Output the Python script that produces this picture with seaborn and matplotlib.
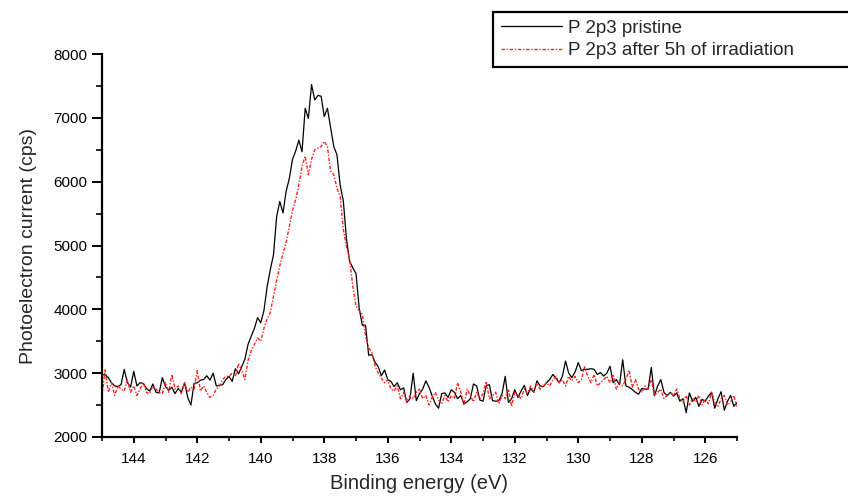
import numpy as np
import pandas as pd
import matplotlib
matplotlib.use("Agg")
import matplotlib.pyplot as plt
import seaborn as sns

# binding energy grid (eV), 0.1 eV steps from 145.0 down to 125.0
energy = np.round(np.arange(1450, 1249, -1) / 10.0, 1)

# P 2p3 pristine (cps), rows of 1 eV
pristine = [
    2980, 2970, 2930, 2850, 2800, 2790, 2820, 3060, 2850, 2780,
    3030, 2800, 2850, 2840, 2760, 2720, 2830, 2700, 2690, 2930,
    2790, 2730, 2780, 2680, 2760, 2700, 2850, 2620, 2500, 2840,
    2850, 2890, 2900, 2960, 2890, 3000, 2800, 2810, 2820, 2900,
    2950, 2870, 3070, 2990, 3100, 3220, 3450, 3580, 3700, 3870,
    3790, 3980, 4350, 4620, 4850, 5450, 5690, 5510, 5850, 6050,
    6350, 6480, 6650, 6470, 7150, 6990, 7520, 7280, 7350, 7340,
    7020, 7150, 6850, 6550, 6420, 5950, 5700, 5100, 4750, 4650,
    4560, 4020, 3750, 3750, 3280, 3290, 3170, 3100, 2960, 3050,
    2900, 2870, 2790, 2850, 2740, 2770, 2540, 2600, 3000, 2570,
    2680, 2750, 2880, 2780, 2640, 2520, 2450, 2680, 2690, 2620,
    2740, 2700, 2600, 2650, 2520, 2550, 2600, 2830, 2800, 2580,
    2560, 2800, 2820, 2570, 2560, 2570, 2680, 2950, 2540, 2600,
    2740, 2620, 2720, 2810, 2650, 2760, 2700, 2880, 2800, 2790,
    2850, 2900, 2980, 2920, 2850, 2950, 3190, 3000, 2930, 3020,
    3165, 3040, 3060, 3060, 3070, 3060, 2980, 3010, 2955, 3000,
    3110, 2850, 2900, 2820, 3210, 2800, 2780, 2745, 2700, 2670,
    2760, 2750, 2750, 3090, 2645, 2800, 2900, 2700, 2645, 2700,
    2640, 2690, 2560, 2600, 2380, 2690, 2560, 2620, 2480, 2590,
    2560, 2640, 2700, 2450, 2600, 2710, 2420, 2560, 2650, 2480,
    2540,
]

# P 2p3 after 5h of irradiation (cps)
irradiated = [
    2650, 3050, 2700, 2850, 2650, 2800, 2750, 2720, 2900, 2700,
    2800, 2650, 2750, 2850, 2700, 2680, 2800, 2750, 2700, 2680,
    2850, 2700, 2980, 2750, 2800, 2680, 2850, 2700, 2780, 2750,
    3040, 2720, 2800, 2700, 2620, 2650, 2750, 2800, 2900, 2950,
    2950, 3000, 2950, 3150, 3050, 2900, 3200, 3350, 3450, 3550,
    3500, 3700, 3850, 3950, 4200, 4450, 4680, 4880, 5050, 5300,
    5550, 5720, 5950, 6240, 6400, 6110, 6350, 6500, 6525, 6550,
    6630, 6550, 6160, 6110, 5900, 5770, 5250, 4980, 4780, 4360,
    4050, 3980, 3920, 3580, 3400, 3320, 3110, 3000, 2920, 2850,
    2900, 2750, 2720, 2800, 2600, 2700, 2550, 2650, 2600, 2700,
    2750, 2600, 2650, 2500, 2620, 2700, 2580, 2520, 2650, 2550,
    2650, 2600, 2850, 2700, 2500, 2750, 2650, 2550, 2700, 2600,
    2680, 2870, 2600, 2650, 2700, 2520, 2650, 2600, 2750, 2480,
    2700, 2650, 2600, 2750, 2680, 2800, 2700, 2850, 2750, 2800,
    2850, 2800, 2900, 2950, 2850, 2900, 2800, 2950, 2880, 2950,
    2850, 2900, 3100, 2950, 2850, 2980, 2800, 2850, 2900, 2950,
    2850, 2980, 2750, 2850, 2800, 2900, 3050, 2780, 2900, 2750,
    2700, 2800, 2750, 2900, 2650, 2700, 2750, 2600, 2650, 2700,
    2650, 2750, 2600, 2550, 2650, 2500, 2600, 2550, 2650, 2500,
    2600, 2520, 2700, 2550, 2480, 2600, 2650, 2500, 2550, 2650,
    2480,
]

labels = ["P 2p3 pristine", "P 2p3 after 5h of irradiation"]
x_ticks = [144, 142, 140, 138, 136, 134, 132, 130, 128, 126]
y_ticks = [2000, 3000, 4000, 5000, 6000, 7000, 8000]

df = pd.DataFrame({"energy": energy, "pristine": pristine, "irradiated": irradiated})

sns.set_style("ticks")
plt.rcParams["font.family"] = ["Liberation Sans", "DejaVu Sans"]

fig = plt.figure(figsize=(8.48, 4.97), dpi=100)
ax = fig.add_axes([102 / 848, 1 - 437 / 497, (737 - 102) / 848, (437 - 54) / 497])

sns.lineplot(data=df, x="energy", y="pristine", ax=ax, color="black",
             linewidth=0.9, label=labels[0], sort=False, legend=False)
sns.lineplot(data=df, x="energy", y="irradiated", ax=ax, color="#ff2020",
             linewidth=1.0, label=labels[1], sort=False, legend=False)
ax.lines[1].set_linestyle((0, (2.5, 1.2, 1, 1.2)))

ax.set_xlim(145, 125)
ax.set_ylim(2000, 8000)
ax.set_xticks(x_ticks)
ax.set_xticks(np.arange(145, 124, -1), minor=True)
ax.set_yticks(y_ticks)
ax.set_yticks(np.arange(2000, 8001, 500), minor=True)

sns.despine(ax=ax)
for s in ["left", "bottom"]:
    ax.spines[s].set_linewidth(1.6)
    ax.spines[s].set_color("black")
ax.tick_params(axis="y", which="major", length=7, width=1.4, labelsize=11, colors="black")
ax.tick_params(axis="y", which="minor", length=4.5, width=1.4)
ax.tick_params(axis="x", which="major", length=4.5, width=1.4, labelsize=11, colors="black", pad=6)
ax.tick_params(axis="x", which="minor", length=3, width=1.4)

ax.set_xlabel("Binding energy (eV)", fontsize=14.5, labelpad=6)
ax.set_ylabel("Photoelectron current (cps)", fontsize=14, labelpad=12)

handles, _ = ax.get_legend_handles_labels()
leg = fig.legend(handles, labels, loc="upper left",
                 bbox_to_anchor=(493 / 848, 1 - 12 / 497, (870 - 493) / 848, 0),
                 mode="expand", fontsize=13.5, handlelength=3.3, handletextpad=0.3,
                 borderpad=0.4, labelspacing=0.3, fancybox=False, framealpha=1,
                 edgecolor="black", borderaxespad=0)
leg.get_frame().set_linewidth(1.6)

fig.savefig("out.png", dpi=100)
